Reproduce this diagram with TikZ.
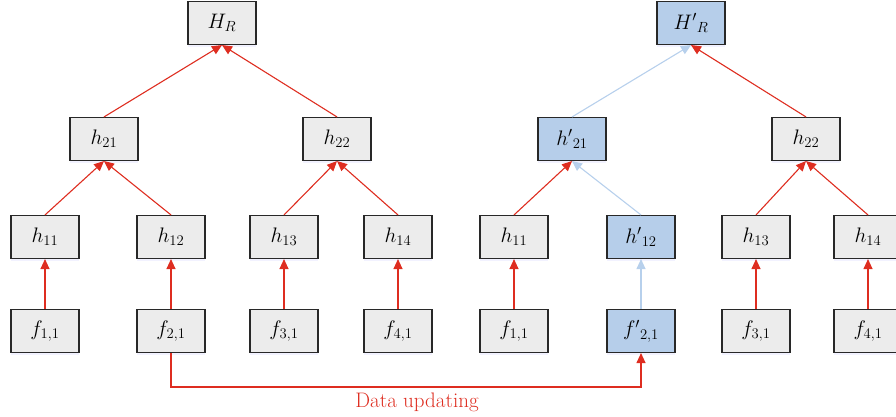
\RequirePackage{fix-cm}
\documentclass[tikz,border=0pt]{standalone}
\usepackage{fontspec}
\usetikzlibrary{arrows.meta,shadows}
\definecolor{redline}{RGB}{222,45,32}
\definecolor{blueline}{RGB}{183,208,236}
\definecolor{grayfill}{RGB}{236,236,236}
\definecolor{bluefill}{RGB}{182,206,234}
\definecolor{edge}{RGB}{40,40,40}
\tikzset{
  box/.style={draw=edge, line width=1.1pt, fill=grayfill, minimum width=68pt, minimum height=43pt, inner sep=0pt,
    font=\fontsize{21}{24}\selectfont, drop shadow={opacity=0.1, shadow xshift=0pt, shadow yshift=-2.5pt, fill=blue!50}},
  bbox/.style={box, fill=bluefill},
  redarr/.style={color=redline, line width=1.1pt, -{Triangle[length=10pt,width=9pt]}},
  bluearr/.style={color=blueline, line width=1.1pt, -{Triangle[length=10pt,width=9pt]}}
}
\begin{document}
\begin{tikzpicture}[x=1pt,y=-1pt]
\useasboundingbox (0,0) rectangle (896,417);
% left tree
\node[box] (HR) at (222,23) {$H_R$};
\node[box] (h21) at (104,139) {$h_{21}$};
\node[box] (h22) at (337,139) {$h_{22}$};
\node[box] (h11) at (45,237) {$h_{11}$};
\node[box] (h12) at (171,237) {$h_{12}$};
\node[box] (h13) at (284,237) {$h_{13}$};
\node[box] (h14) at (398,237) {$h_{14}$};
\node[box] (f1) at (45,331) {$f_{1,1}$};
\node[box] (f2) at (171,331) {$f_{2,1}$};
\node[box] (f3) at (284,331) {$f_{3,1}$};
\node[box] (f4) at (398,331) {$f_{4,1}$};
% right tree
\node[bbox] (HRp) at (691,23) {$H'{}_R$};
\node[bbox] (h21p) at (572,139) {$h'{}_{21}$};
\node[box] (h22r) at (806,139) {$h_{22}$};
\node[box] (h11r) at (514,237) {$h_{11}$};
\node[bbox] (h12p) at (641,237) {$h'{}_{12}$};
\node[box] (h13r) at (756,237) {$h_{13}$};
\node[box] (h14r) at (868,237) {$h_{14}$};
\node[box] (f1r) at (514,331) {$f_{1,1}$};
\node[bbox] (f2p) at (641,331) {$f'{}_{2,1}$};
\node[box] (f3r) at (756,331) {$f_{3,1}$};
\node[box] (f4r) at (868,331) {$f_{4,1}$};
% left edges
\draw[redarr] (h21.north) -- (HR.south);
\draw[redarr] (h22.north) -- (HR.south);
\draw[redarr] (h11.north) -- (h21.south);
\draw[redarr] (h12.north) -- (h21.south);
\draw[redarr] (h13.north) -- (h22.south);
\draw[redarr] (h14.north) -- (h22.south);
\draw[redarr] (f1.north) -- (h11.south);
\draw[redarr] (f2.north) -- (h12.south);
\draw[redarr] (f3.north) -- (h13.south);
\draw[redarr] (f4.north) -- (h14.south);
% right edges
\draw[bluearr] (h21p.north) -- (HRp.south);
\draw[redarr] (h22r.north) -- (HRp.south);
\draw[redarr] (h11r.north) -- (h21p.south);
\draw[bluearr] (h12p.north) -- (h21p.south);
\draw[redarr] (h13r.north) -- (h22r.south);
\draw[redarr] (h14r.north) -- (h22r.south);
\draw[redarr] (f1r.north) -- (h11r.south);
\draw[bluearr] (f2p.north) -- (h12p.south);
\draw[redarr] (f3r.north) -- (h13r.south);
\draw[redarr] (f4r.north) -- (h14r.south);
% data updating
\coordinate (c1) at (171,387);
\coordinate (c2) at (641,387);
\draw[redarr] (f2.south) -- (c1) -- (c2) -- (f2p.south);
\node[text=redline, font=\fontsize{21}{24}\selectfont] (lbl) at (417,402) {Data updating};
\end{tikzpicture}
\end{document}
